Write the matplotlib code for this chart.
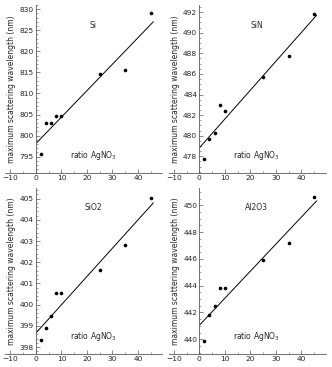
import numpy as np
import matplotlib
matplotlib.use('Agg')
import matplotlib.pyplot as plt
from matplotlib.ticker import MultipleLocator

# Data: ratio AgNO3 vs maximum scattering wavelength (nm)
ratio = [2, 4, 6, 8, 10, 25, 35, 45]
si = [795.6, 802.9, 802.9, 804.6, 804.6, 814.7, 815.5, 829.0]
sin = [477.7, 479.7, 480.3, 483.0, 482.4, 485.7, 487.7, 491.8]
sio2 = [398.35, 398.9, 399.45, 400.55, 400.55, 401.65, 402.8, 405.05]
al2o3 = [439.9, 441.8, 442.5, 443.85, 443.85, 445.9, 447.2, 450.6]

names = ['Si', 'SiN', 'SiO2', 'Al2O3']
series = [si, sin, sio2, al2o3]
ylims = [(791.2, 831.0), (476.4, 492.7), (397.67, 405.5), (438.9, 451.3)]
majors = [5, 2, 1, 2]
minors = [1, 0.5, 0.2, 0.5]

W, H = 332, 367
fig = plt.figure(figsize=(W / 100, H / 100), dpi=100)

# axes boxes in pixels: left, top, right, bottom
boxes = [(5.4, 5, 162.2, 172.7), (168.7, 5, 325.5, 172.7),
         (5.4, 188, 162.2, 354), (168.7, 188, 325.5, 354)]

axis_col = '0.35'
txt_col = '0.15'
for name, y, ylim, mj, mn, (l, t, r, b) in zip(names, series, ylims, majors, minors, boxes):
    ax = fig.add_axes([l / W, 1 - b / H, (r - l) / W, (b - t) / H])
    ax.set_xlim(-12, 49.5)
    ax.set_ylim(*ylim)

    # linear fit
    k, c = np.polyfit(ratio, y, 1)
    xf = np.array([0.3, 46])
    ax.plot(xf, k * xf + c, color='black', lw=0.7)
    ax.plot(ratio, y, 'o', color='black', ms=1.6)

    ax.spines['top'].set_visible(False)
    ax.spines['right'].set_visible(False)
    ax.spines['left'].set_position(('data', 0))
    for s in ['left', 'bottom']:
        ax.spines[s].set_color(axis_col)
        ax.spines[s].set_linewidth(0.6)

    ax.xaxis.set_major_locator(MultipleLocator(10))
    ax.xaxis.set_minor_locator(MultipleLocator(5))
    ax.yaxis.set_major_locator(MultipleLocator(mj))
    ax.yaxis.set_minor_locator(MultipleLocator(mn))
    ax.tick_params(which='major', direction='in', length=3, width=0.5,
                   color=axis_col, labelsize=5.4, labelcolor=txt_col, pad=1.5)
    ax.tick_params(which='minor', direction='in', length=1.5, width=0.4,
                   color=axis_col)

    ax.text(0.56, 0.88, name, transform=ax.transAxes, fontsize=5.5,
            ha='center', va='center', color=txt_col)
    ax.text(0.56, 0.105, 'ratio AgNO$_3$', transform=ax.transAxes,
            fontsize=5.5, ha='center', va='center', color=txt_col)
    ax.text(0.042, 0.5, 'maximum scattering wavelength (nm)',
            transform=ax.transAxes, fontsize=5.5, rotation=90,
            ha='center', va='center', color=txt_col)

fig.savefig('out.png', dpi=100)
